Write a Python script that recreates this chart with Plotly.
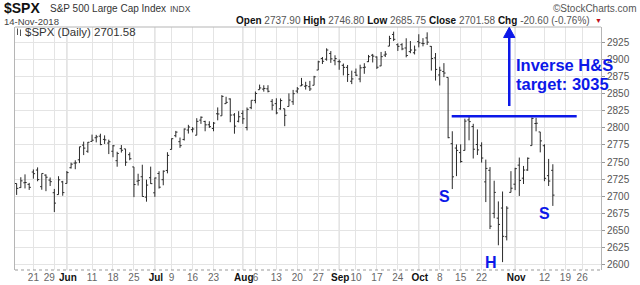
import plotly.graph_objects as go
import pandas as pd

# ---------------- data (S&P 500 daily OHLC) ----------------
dates = ["2018-05-15","2018-05-16","2018-05-17","2018-05-18","2018-05-21","2018-05-22","2018-05-23","2018-05-24","2018-05-25",
         "2018-05-29","2018-05-30","2018-05-31","2018-06-01","2018-06-04","2018-06-05","2018-06-06","2018-06-07","2018-06-08",
         "2018-06-11","2018-06-12","2018-06-13","2018-06-14","2018-06-15","2018-06-18","2018-06-19","2018-06-20","2018-06-21",
         "2018-06-22","2018-06-25","2018-06-26","2018-06-27","2018-06-28","2018-06-29","2018-07-02","2018-07-03","2018-07-05",
         "2018-07-06","2018-07-09","2018-07-10","2018-07-11","2018-07-12","2018-07-13","2018-07-16","2018-07-17","2018-07-18",
         "2018-07-19","2018-07-20","2018-07-23","2018-07-24","2018-07-25","2018-07-26","2018-07-27","2018-07-30","2018-07-31",
         "2018-08-01","2018-08-02","2018-08-03","2018-08-06","2018-08-07","2018-08-08","2018-08-09","2018-08-10","2018-08-13",
         "2018-08-14","2018-08-15","2018-08-16","2018-08-17","2018-08-20","2018-08-21","2018-08-22","2018-08-23","2018-08-24",
         "2018-08-27","2018-08-28","2018-08-29","2018-08-30","2018-08-31","2018-09-04","2018-09-05","2018-09-06","2018-09-07",
         "2018-09-10","2018-09-11","2018-09-12","2018-09-13","2018-09-14","2018-09-17","2018-09-18","2018-09-19","2018-09-20",
         "2018-09-21","2018-09-24","2018-09-25","2018-09-26","2018-09-27","2018-09-28","2018-10-01","2018-10-02","2018-10-03",
         "2018-10-04","2018-10-05","2018-10-08","2018-10-09","2018-10-10","2018-10-11","2018-10-12","2018-10-15","2018-10-16",
         "2018-10-17","2018-10-18","2018-10-19","2018-10-22","2018-10-23","2018-10-24","2018-10-25","2018-10-26","2018-10-29",
         "2018-10-30","2018-10-31","2018-11-01","2018-11-02","2018-11-05","2018-11-06","2018-11-07","2018-11-08","2018-11-09",
         "2018-11-12","2018-11-13","2018-11-14"]
opens = [2718.6,2712.6,2719.7,2717.4,2735.4,2738.3,2714.0,2730.9,2723.6,
         2705.1,2702.4,2721.0,2718.7,2741.7,2748.5,2753.3,2774.8,2765.8,
         2780.2,2785.6,2787.9,2783.2,2777.8,2765.8,2752.0,2769.7,2769.3,
         2760.8,2742.9,2722.1,2728.5,2698.7,2727.1,2705.0,2733.3,2724.2,
         2737.7,2768.5,2788.6,2779.8,2783.1,2796.9,2797.4,2789.3,2811.4,
         2809.4,2804.6,2799.2,2820.7,2817.7,2835.5,2842.4,2819.0,2809.7,
         2821.2,2800.5,2829.6,2840.3,2855.9,2856.8,2857.2,2838.9,2835.5,
         2827.9,2828.0,2831.4,2838.3,2853.9,2861.5,2861.0,2860.3,2862.4,
         2884.7,2901.5,2900.6,2908.9,2898.4,2897.0,2891.6,2888.6,2868.3,
         2881.4,2871.6,2888.3,2896.9,2906.4,2903.8,2890.7,2906.6,2919.7,
         2936.8,2921.8,2921.8,2917.0,2911.7,2910.0,2926.3,2923.8,2931.7,
         2919.4,2902.5,2877.5,2882.5,2873.9,2776.9,2770.5,2763.8,2767.1,
         2811.7,2802.0,2775.7,2773.9,2721.0,2737.9,2674.9,2667.9,2682.7,
         2640.7,2705.6,2717.6,2745.5,2726.4,2738.4,2774.1,2806.4,2794.1,
         2773.9,2730.1,2737.9]
highs = [2718.6,2727.8,2732.0,2719.5,2739.2,2742.2,2733.3,2732.0,2727.4,
         2710.7,2729.3,2722.5,2736.9,2749.2,2752.6,2772.4,2779.9,2779.4,
         2790.2,2789.8,2791.5,2789.1,2782.8,2775.0,2765.1,2774.9,2769.3,
         2764.2,2742.9,2732.9,2746.1,2724.3,2743.3,2727.3,2736.6,2737.8,
         2764.4,2784.7,2795.6,2785.9,2799.2,2804.5,2801.2,2814.2,2816.8,
         2810.5,2809.7,2808.6,2830.0,2848.0,2845.6,2843.2,2821.7,2824.5,
         2825.8,2829.9,2840.4,2853.3,2863.4,2862.4,2862.5,2842.2,2843.4,
         2843.1,2828.0,2850.5,2855.6,2859.8,2873.2,2867.5,2868.8,2876.2,
         2898.3,2903.8,2916.5,2912.5,2906.3,2900.2,2894.2,2892.1,2883.8,
         2886.9,2892.5,2894.7,2906.8,2908.3,2904.7,2911.2,2912.4,2934.8,
         2940.9,2923.8,2924.0,2931.2,2927.2,2920.5,2937.1,2931.4,2939.9,
         2919.8,2909.6,2889.5,2894.8,2874.0,2795.1,2775.8,2776.0,2813.5,
         2816.9,2806.0,2797.8,2778.9,2753.6,2742.6,2722.7,2692.4,2706.9,
         2685.4,2736.7,2741.7,2756.6,2744.3,2756.8,2815.2,2814.8,2794.1,
         2776.0,2754.6,2746.8]
lows = [2701.9,2712.2,2711.4,2709.2,2725.7,2721.9,2709.5,2707.4,2715.0,
        2676.8,2702.4,2700.7,2718.7,2740.5,2739.5,2748.5,2760.2,2763.6,
        2780.2,2778.8,2774.7,2776.5,2761.7,2757.1,2743.2,2763.9,2744.4,
        2752.7,2698.7,2715.6,2699.4,2692.0,2718.0,2699.0,2711.2,2716.0,
        2733.5,2768.5,2786.2,2770.8,2781.5,2791.7,2793.4,2789.2,2805.9,
        2795.1,2800.0,2795.1,2811.1,2817.7,2835.3,2808.3,2791.5,2808.1,
        2805.9,2796.3,2827.4,2836.0,2855.9,2853.1,2852.0,2825.8,2819.9,
        2826.6,2802.5,2831.4,2833.7,2850.6,2861.3,2856.1,2854.0,2862.4,
        2884.7,2893.5,2898.4,2895.2,2891.7,2885.1,2876.9,2867.3,2864.1,
        2875.9,2866.8,2879.2,2896.4,2895.8,2886.2,2890.4,2903.8,2919.7,
        2927.1,2912.6,2913.7,2903.3,2909.3,2907.5,2917.9,2919.4,2921.4,
        2883.9,2869.3,2862.1,2874.3,2784.9,2710.5,2729.4,2749.0,2766.9,
        2781.8,2755.2,2760.3,2749.2,2691.4,2651.9,2667.8,2628.2,2603.5,
        2635.3,2705.6,2708.9,2700.4,2717.9,2737.1,2774.1,2795.0,2764.2,
        2722.0,2715.0,2685.8]
closes = [2711.5,2722.5,2720.1,2713.0,2733.0,2724.4,2733.3,2727.8,2721.3,
          2689.9,2724.0,2705.3,2734.6,2746.9,2748.8,2772.4,2770.4,2779.0,
          2782.0,2786.9,2775.6,2782.5,2779.7,2773.8,2762.6,2767.3,2749.8,
          2754.9,2717.1,2723.1,2699.6,2716.3,2718.4,2726.7,2713.2,2736.6,
          2759.8,2784.2,2793.8,2774.0,2798.3,2801.3,2798.4,2809.6,2815.6,
          2804.5,2801.8,2807.0,2820.4,2846.1,2837.4,2818.8,2802.6,2816.3,
          2813.4,2827.2,2840.4,2850.4,2858.5,2857.7,2853.6,2833.3,2821.9,
          2840.0,2818.4,2840.7,2850.1,2857.1,2863.0,2861.8,2857.0,2874.7,
          2896.7,2897.5,2914.0,2901.1,2901.5,2896.7,2888.6,2878.1,2871.7,
          2877.1,2887.9,2888.9,2904.2,2905.0,2888.8,2904.3,2908.0,2930.8,
          2929.7,2919.4,2915.6,2906.0,2914.0,2914.0,2924.6,2923.4,2925.5,
          2901.6,2885.6,2884.4,2880.3,2785.7,2728.4,2767.1,2750.8,2809.9,
          2809.2,2768.8,2767.8,2755.9,2740.7,2656.1,2705.6,2658.7,2641.3,
          2682.6,2711.7,2740.4,2723.1,2738.3,2755.5,2813.9,2806.8,2781.0,
          2726.2,2722.2,2701.6]

holidays = ["2018-05-28", "2018-07-04", "2018-09-03", "2018-11-22"]
tick_dates = ["2018-05-21","2018-05-29","2018-06-01","2018-06-11","2018-06-18","2018-06-25","2018-07-02",
              "2018-07-09","2018-07-16","2018-07-23","2018-08-01","2018-08-06","2018-08-13","2018-08-20",
              "2018-08-27","2018-09-04","2018-09-10","2018-09-17","2018-09-24","2018-10-01","2018-10-08",
              "2018-10-15","2018-10-22","2018-11-01","2018-11-12","2018-11-19","2018-11-26"]
tick_labels = ["21","29","Jun","11","18","25","Jul","9","16","23","Aug","6","13","20",
               "27","Sep","10","17","24","Oct","8","15","22","Nov","12","19","26"]
month_names = ["Jun", "Jul", "Aug", "Sep", "Oct", "Nov"]
y_ticks = list(range(2600, 2926, 25))

neck_price = 2817
pattern_labels = ["S", "H", "S"]

# ---------------- trading-day calendar ----------------
cal = [d.strftime("%Y-%m-%d") for d in pd.bdate_range("2018-05-15", "2018-11-30")
       if d.strftime("%Y-%m-%d") not in holidays]
base = cal.index("2018-05-21")
pos = {d: i - base for i, d in enumerate(cal)}
xs = [pos[d] for d in dates]
tick_x = [pos[d] for d in tick_dates]

FONT = "Liberation Sans, Arial, sans-serif"
BLUE = "#0c18e8"

def fmt_tick(t):
    if t in month_names:
        return '<b><span style="color:#111">\u2009' + t + '</span></b>'
    if t == "29":
        return t + "\u2003"
    return t

fig = go.Figure()
fig.add_trace(go.Ohlc(
    x=xs, open=opens, high=highs, low=lows, close=closes,
    increasing=dict(line=dict(color="#2a2a2a", width=1)),
    decreasing=dict(line=dict(color="#2a2a2a", width=1)),
    tickwidth=0.4, showlegend=False, hoverinfo="skip"))

# plot-area pixel helpers (plot area 15..601 x 27..270)
PL, PR, PT, PB = 15, 601, 27, 270
def px(x):
    return (x - PL) / (PR - PL)
def py(y):
    return (PB - y) / (PB - PT)

shapes = []
# darker month grid lines
for d, t in zip(tick_dates, tick_labels):
    if t in month_names:
        shapes.append(dict(type="line", xref="x", yref="paper", x0=pos[d], x1=pos[d], y0=0, y1=1,
                           line=dict(color="#c9c9c9", width=1), layer="below"))
# top border and dotted bottom line
shapes.append(dict(type="line", xref="paper", yref="paper", x0=0, x1=1, y0=1, y1=1,
                   line=dict(color="#b5b5b5", width=1)))
shapes.append(dict(type="line", xref="paper", yref="paper", x0=0, x1=1, y0=0, y1=0,
                   line=dict(color="#999999", width=1, dash="dot")))
# neckline (drawn in plot-pixel terms)
shapes.append(dict(type="line", xref="paper", yref="y", x0=px(451.7), x1=px(576.7), y0=neck_price, y1=neck_price,
                   line=dict(color=BLUE, width=2.5), layer="above"))
# target arrow (shaft + head)
arr_x = pos["2018-11-01"] - 1.4
shapes.append(dict(type="line", xref="x", yref="y", x0=arr_x, x1=arr_x, y0=2832, y1=2935,
                   line=dict(color=BLUE, width=2.5), layer="above"))
hw, hh = 1.35, 15
shapes.append(dict(type="path", xref="x", yref="y",
                   path=f"M {arr_x-hw},{2947.3-hh} L {arr_x},{2947.3} L {arr_x+hw},{2947.3-hh} Z",
                   fillcolor=BLUE, line=dict(color=BLUE, width=1), layer="above"))
# legend icon
for (x0, y0, y1) in [(17.5, 28.5, 35), (20.5, 29.5, 36)]:
    shapes.append(dict(type="line", xref="paper", yref="paper", x0=px(x0), x1=px(x0), y0=py(y0), y1=py(y1),
                       line=dict(color="#555", width=1)))

annotations = []
# pattern labels
for lab, (lx, ly) in zip(pattern_labels, [(pos["2018-10-10"] - 0.9, 2699), (pos["2018-10-26"] - 1.8, 2602.5),
                                          (pos["2018-11-12"], 2675)]):
    annotations.append(dict(x=lx, y=ly, xref="x", yref="y", text="<b>" + lab + "</b>", showarrow=False,
                            font=dict(family=FONT, size=16, color=BLUE), xanchor="center", yanchor="middle"))
annotations.append(dict(x=arr_x + 1.2, y=2892, xref="x", yref="y", text="<b>Inverse H&S</b>", showarrow=False,
                        font=dict(family=FONT, size=16.5, color=BLUE), xanchor="left", yanchor="middle"))
annotations.append(dict(x=arr_x + 1.2, y=2865, xref="x", yref="y", text="<b>target: 3035</b>", showarrow=False,
                        font=dict(family=FONT, size=16.5, color=BLUE), xanchor="left", yanchor="middle"))

# header texts
def hdr(x, y, text, size, color="#222", anchor="left"):
    annotations.append(dict(x=px(x), y=py(y), xref="paper", yref="paper", text=text, showarrow=False,
                            xanchor=anchor, yanchor="middle", font=dict(family=FONT, size=size, color=color)))

hdr(2, 8, "<b>$SPX</b>", 14, "#111")
hdr(48, 9, "S&P 500 Large Cap Index", 10, "#333")
hdr(168, 9, "INDX", 8.5, "#444")
hdr(639, 8.5, "©StockCharts.com", 10, "#555", "right")
hdr(2, 21.5, "14-Nov-2018", 9.5, "#444")
g = '<span style="color:#555">'
hdr(592, 20.5, "<b>Open</b> " + g + "2737.90</span> <b>High</b> " + g + "2746.80</span> <b>Low</b> " + g +
    "2685.75</span> <b>Close</b> " + g + "2701.58</span> <b>Chg</b> " + g + "-20.60 (-0.76%)</span>",
    10, "#111", "right")
hdr(593, 20.5, "▼", 7, "#c0101a")
hdr(23, 32, "$SPX (Daily) 2701.58", 11.5, "#333")

fig.update_layout(
    width=640, height=285,
    margin=dict(l=PL, r=640 - PR, t=PT, b=285 - PB, autoexpand=False),
    paper_bgcolor="white", plot_bgcolor="white",
    font=dict(family=FONT, size=10, color="#555"),
    shapes=shapes, annotations=annotations,
    xaxis=dict(range=[pos["2018-05-15"] - 0.39, pos["2018-11-26"] + 4.5],
               tickmode="array", tickvals=tick_x, ticktext=[fmt_tick(t) for t in tick_labels],
               tickangle=0, automargin=False,
               showgrid=True, gridcolor="#e4e4e4", gridwidth=1, zeroline=False, showline=False,
               ticks="", tickfont=dict(size=10, color="#666"), rangeslider=dict(visible=False),
               fixedrange=True),
    yaxis=dict(side="right", range=[2592, 2947.7], tickmode="array", tickvals=y_ticks,
               automargin=False,
               showgrid=True, gridcolor="#e4e4e4", zeroline=False,
               showline=True, mirror=True, linecolor="#b5b5b5", linewidth=1,
               ticks="outside", ticklen=3, tickcolor="#999",
               tickfont=dict(size=10, color="#555"), fixedrange=True),
)

fig.write_html("out.html")
